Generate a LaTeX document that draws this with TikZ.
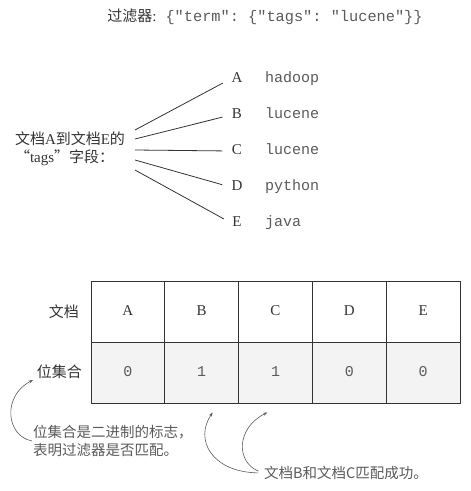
\documentclass[tikz,border=0pt]{standalone}
\usepackage{fontspec}
\setmainfont{Liberation Serif}
\setmonofont{Liberation Mono}
\newfontfamily\cjk{Noto Sans CJK SC}
\usetikzlibrary{arrows.meta,calc,positioning}
\definecolor{inkgray}{HTML}{333333}
\definecolor{codegray}{HTML}{5A5A5A}
\definecolor{rowgray}{HTML}{F3F3F3}
\tikzstyle{txt} = [inner sep=1pt, text=inkgray, font=\fontsize{15}{18}\selectfont]
\tikzstyle{letter} = [txt, text height=10.5pt, text depth=3pt]
\tikzstyle{code} = [inner sep=1pt, text=codegray, text height=10.5pt, text depth=3pt, font=\fontsize{15}{18}\selectfont\ttfamily]
\tikzstyle{cell} = [draw=inkgray, line width=0.8pt, minimum width=73.8pt, minimum height=61pt, inner sep=0pt]
\tikzstyle{note} = [inner sep=1pt, text=codegray, align=left, font=\fontsize{14.5}{18}\selectfont\cjk]
\tikzstyle{fan} = [inkgray, line width=0.8pt, shorten >=8.5pt]
\tikzstyle{arrow} = [codegray, line width=0.6pt, -{Stealth[length=4.5pt,width=3pt]}]

\begin{document}
\begin{tikzpicture}[x=1pt,y=-1pt]
\useasboundingbox (0,0) rectangle (471,491);
% filter
\node[txt] (title) at (265,17) {{\cjk 过滤器}:\hspace{9pt}{\fontsize{15.3}{18}\selectfont\ttfamily\color{codegray}\{"term": \{"tags": "lucene"\}\}}};
% tags field of the five docs
\node[txt, align=left] (fld) at (70,149) {{\cjk 文档}A{\cjk 到文档}E{\cjk 的}\\{\cjk “}tags{\cjk ”字段：}};
\coordinate (s1) at (135,130);
\coordinate (s2) at (135,139);
\coordinate (s3) at (135,150);
\coordinate (s4) at (135,160);
\coordinate (s5) at (135,170);
\node[letter] (A) at (237,79) {A};
\node[letter] (B) at (237,115) {B};
\node[letter] (C) at (237,151) {C};
\node[letter] (D) at (237,187) {D};
\node[letter] (E) at (237,223) {E};
\node[code, anchor=west] (wA) at (264,79) {hadoop};
\node[code, anchor=west] (wB) at (264,115) {lucene};
\node[code, anchor=west] (wC) at (264,151) {lucene};
\node[code, anchor=west] (wD) at (264,187) {python};
\node[code, anchor=west] (wE) at (264,223) {java};
\draw[fan] (s1) -- (A.west);
\draw[fan] (s2) -- (B.west);
\draw[fan] (s3) -- (C.west);
\draw[fan] (s4) -- (D.west);
\draw[fan] (s5) -- (E.west);
% bitset table
\node[txt, anchor=east] (hdoc) at (80,312) {\cjk 文档};
\node[txt, anchor=east] (hbit) at (83,372) {\cjk 位集合};
\node[cell] (d1) at (127.9,311.5) {};
\node[cell] (d2) at (201.7,311.5) {};
\node[cell] (d3) at (275.5,311.5) {};
\node[cell] (d4) at (349.3,311.5) {};
\node[cell] (d5) at (423.1,311.5) {};
\node[cell, fill=rowgray] (b1) at (127.9,372.5) {};
\node[cell, fill=rowgray] (b2) at (201.7,372.5) {};
\node[cell, fill=rowgray] (b3) at (275.5,372.5) {};
\node[cell, fill=rowgray] (b4) at (349.3,372.5) {};
\node[cell, fill=rowgray] (b5) at (423.1,372.5) {};
\node[letter] at (d1) {A};
\node[letter] at (d2) {B};
\node[letter] at (d3) {C};
\node[letter] at (d4) {D};
\node[letter] at (d5) {E};
\node[code] at (b1) {0};
\node[code] at (b2) {1};
\node[code] at (b3) {1};
\node[code] at (b4) {0};
\node[code] at (b5) {0};
% notes
\node[note, anchor=north west] (n1) at (32,424) {位集合是二进制的标志，\\表明过滤器是否匹配。};
\node[note, anchor=west] (n2) at (263,473) {文档B和文档C匹配成功。};
\coordinate (t1) at (33,380);
\coordinate (t2) at ($(b2.south)+(11,9)$);
\coordinate (t3) at ($(b3.south)+(-8,9)$);
\draw[arrow] (n1.west) .. controls (6,436) and (2,396) .. (t1);
\draw[arrow, shorten <=5pt] (n2.west) .. controls (212,472) and (194,440) .. (t2);
\draw[arrow, shorten <=5pt] (n2.west) .. controls (236,462) and (236,428) .. (t3);
\end{tikzpicture}
\end{document}
